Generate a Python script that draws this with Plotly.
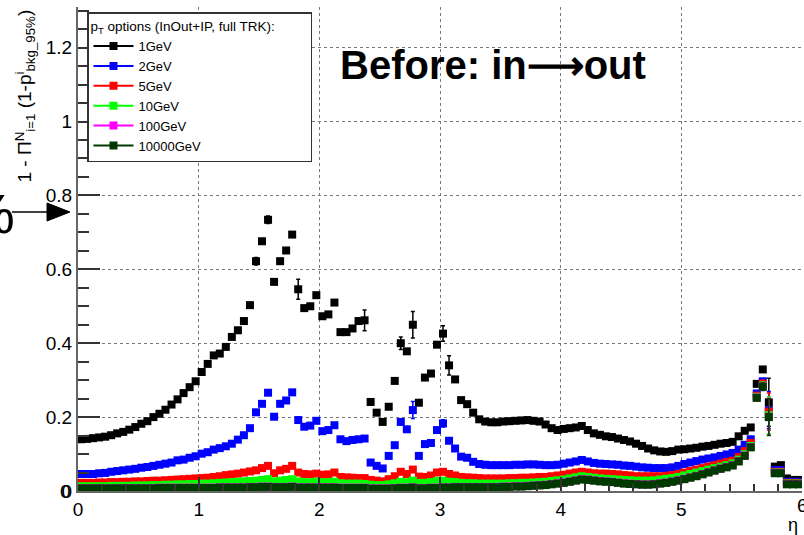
import numpy as np
import plotly.graph_objects as go

# ---------------- data ----------------
eta = np.round(np.arange(0.025, 6.0, 0.05), 3)  # histogram bin centres, width 0.05

pt_1GeV = [
    0.140, 0.141, 0.143, 0.145, 0.147, 0.151, 0.156, 0.160, 0.166, 0.173,
    0.182, 0.189, 0.200, 0.209, 0.220, 0.234, 0.248, 0.265, 0.281, 0.297,
    0.322, 0.344, 0.367, 0.372, 0.390, 0.417, 0.435, 0.460, 0.503, 0.622,
    0.676, 0.734, 0.566, 0.622, 0.651, 0.694, 0.546, 0.495, 0.500, 0.530,
    0.473, 0.478, 0.510, 0.430, 0.430, 0.440, 0.460, 0.462, 0.241, 0.212,
    0.187, 0.228, 0.298, 0.400, 0.378, 0.450, 0.239, 0.307, 0.318, 0.396,
    0.426, 0.340, 0.302, 0.246, 0.235, 0.212, 0.194, 0.188, 0.186, 0.186,
    0.188, 0.189, 0.190, 0.191, 0.192, 0.190, 0.188, 0.180, 0.170, 0.165,
    0.168, 0.170, 0.172, 0.176, 0.165, 0.156, 0.152, 0.148, 0.146, 0.142,
    0.138, 0.134, 0.128, 0.122, 0.115, 0.110, 0.107, 0.106, 0.108, 0.112,
    0.113, 0.115, 0.117, 0.120, 0.122, 0.125, 0.128, 0.130, 0.133, 0.148,
    0.163, 0.172, 0.290, 0.329, 0.240, 0.066, 0.070, 0.034, 0.030, 0.030,
]
pt_2GeV = [
    0.046, 0.046, 0.046, 0.048, 0.049, 0.052, 0.054, 0.056, 0.058, 0.060,
    0.063, 0.065, 0.068, 0.071, 0.074, 0.077, 0.083, 0.085, 0.090, 0.094,
    0.101, 0.105, 0.112, 0.116, 0.121, 0.128, 0.139, 0.151, 0.170, 0.213,
    0.236, 0.266, 0.201, 0.236, 0.245, 0.267, 0.192, 0.174, 0.177, 0.190,
    0.162, 0.165, 0.178, 0.140, 0.135, 0.138, 0.140, 0.142, 0.077, 0.068,
    0.061, 0.095, 0.124, 0.187, 0.167, 0.219, 0.095, 0.127, 0.130, 0.165,
    0.183, 0.136, 0.115, 0.093, 0.090, 0.079, 0.073, 0.071, 0.070, 0.070,
    0.070, 0.070, 0.071, 0.071, 0.072, 0.072, 0.071, 0.070, 0.070, 0.071,
    0.074, 0.077, 0.080, 0.084, 0.080, 0.076, 0.074, 0.073, 0.072, 0.071,
    0.069, 0.068, 0.066, 0.064, 0.063, 0.062, 0.062, 0.062, 0.064, 0.068,
    0.073, 0.077, 0.081, 0.085, 0.088, 0.091, 0.095, 0.099, 0.103, 0.112,
    0.125, 0.140, 0.264, 0.297, 0.219, 0.057, 0.057, 0.025, 0.025, 0.025,
]
pt_5GeV = [
    0.022, 0.022, 0.022, 0.023, 0.023, 0.024, 0.024, 0.025, 0.025, 0.026,
    0.026, 0.027, 0.028, 0.028, 0.029, 0.030, 0.031, 0.032, 0.033, 0.034,
    0.035, 0.036, 0.038, 0.040, 0.043, 0.045, 0.047, 0.050, 0.053, 0.056,
    0.062, 0.068, 0.048, 0.056, 0.060, 0.068, 0.050, 0.046, 0.045, 0.047,
    0.044, 0.045, 0.050, 0.038, 0.037, 0.036, 0.035, 0.035, 0.030, 0.028,
    0.026, 0.032, 0.040, 0.052, 0.046, 0.058, 0.039, 0.038, 0.042, 0.050,
    0.052, 0.046, 0.042, 0.038, 0.037, 0.036, 0.035, 0.034, 0.034, 0.034,
    0.034, 0.035, 0.035, 0.036, 0.036, 0.037, 0.038, 0.038, 0.040, 0.042,
    0.044, 0.047, 0.050, 0.052, 0.050, 0.048, 0.047, 0.047, 0.046, 0.045,
    0.043, 0.042, 0.040, 0.040, 0.040, 0.040, 0.040, 0.041, 0.043, 0.046,
    0.050, 0.054, 0.058, 0.062, 0.066, 0.070, 0.074, 0.078, 0.082, 0.092,
    0.108, 0.130, 0.258, 0.290, 0.215, 0.052, 0.052, 0.022, 0.022, 0.022,
]
pt_10GeV = [
    0.013, 0.013, 0.013, 0.013, 0.013, 0.014, 0.014, 0.014, 0.014, 0.015,
    0.015, 0.015, 0.016, 0.016, 0.017, 0.017, 0.018, 0.018, 0.019, 0.019,
    0.020, 0.020, 0.021, 0.022, 0.023, 0.024, 0.025, 0.026, 0.027, 0.028,
    0.030, 0.032, 0.026, 0.028, 0.030, 0.032, 0.026, 0.024, 0.024, 0.025,
    0.024, 0.024, 0.025, 0.021, 0.020, 0.020, 0.020, 0.019, 0.017, 0.016,
    0.016, 0.018, 0.021, 0.025, 0.024, 0.028, 0.022, 0.022, 0.024, 0.027,
    0.028, 0.025, 0.024, 0.022, 0.021, 0.021, 0.020, 0.020, 0.020, 0.020,
    0.020, 0.021, 0.021, 0.022, 0.022, 0.023, 0.024, 0.025, 0.027, 0.029,
    0.031, 0.034, 0.037, 0.040, 0.038, 0.036, 0.034, 0.033, 0.032, 0.031,
    0.030, 0.029, 0.028, 0.028, 0.028, 0.029, 0.031, 0.033, 0.035, 0.038,
    0.042, 0.046, 0.050, 0.054, 0.058, 0.062, 0.066, 0.070, 0.075, 0.085,
    0.100, 0.122, 0.255, 0.285, 0.205, 0.050, 0.050, 0.020, 0.020, 0.020,
]
pt_100GeV = [
    0.008, 0.008, 0.008, 0.008, 0.008, 0.008, 0.008, 0.008, 0.008, 0.008,
    0.008, 0.008, 0.008, 0.009, 0.009, 0.009, 0.009, 0.009, 0.009, 0.009,
    0.009, 0.009, 0.009, 0.010, 0.010, 0.010, 0.010, 0.010, 0.011, 0.011,
    0.012, 0.012, 0.011, 0.011, 0.011, 0.012, 0.010, 0.010, 0.010, 0.010,
    0.010, 0.010, 0.010, 0.009, 0.009, 0.009, 0.009, 0.009, 0.007, 0.007,
    0.007, 0.007, 0.008, 0.009, 0.009, 0.010, 0.008, 0.008, 0.009, 0.009,
    0.010, 0.010, 0.011, 0.011, 0.011, 0.011, 0.011, 0.011, 0.011, 0.011,
    0.012, 0.012, 0.013, 0.013, 0.014, 0.015, 0.016, 0.017, 0.019, 0.021,
    0.023, 0.026, 0.029, 0.032, 0.031, 0.029, 0.027, 0.026, 0.025, 0.023,
    0.021, 0.020, 0.019, 0.018, 0.018, 0.019, 0.021, 0.023, 0.026, 0.029,
    0.033, 0.037, 0.041, 0.046, 0.051, 0.056, 0.061, 0.065, 0.070, 0.081,
    0.096, 0.119, 0.253, 0.283, 0.201, 0.049, 0.049, 0.019, 0.019, 0.019,
]
pt_10000GeV = [
    0.007, 0.007, 0.007, 0.007, 0.007, 0.007, 0.007, 0.007, 0.007, 0.007,
    0.007, 0.007, 0.007, 0.008, 0.008, 0.008, 0.008, 0.008, 0.008, 0.008,
    0.008, 0.008, 0.008, 0.009, 0.009, 0.009, 0.009, 0.009, 0.010, 0.010,
    0.011, 0.011, 0.010, 0.010, 0.010, 0.011, 0.009, 0.009, 0.009, 0.009,
    0.009, 0.009, 0.009, 0.008, 0.008, 0.008, 0.008, 0.008, 0.006, 0.006,
    0.006, 0.006, 0.007, 0.008, 0.008, 0.009, 0.007, 0.007, 0.008, 0.008,
    0.009, 0.009, 0.010, 0.010, 0.010, 0.010, 0.010, 0.010, 0.010, 0.010,
    0.011, 0.011, 0.012, 0.012, 0.013, 0.014, 0.015, 0.016, 0.018, 0.020,
    0.022, 0.025, 0.028, 0.031, 0.030, 0.028, 0.026, 0.025, 0.024, 0.022,
    0.020, 0.019, 0.018, 0.017, 0.017, 0.018, 0.020, 0.022, 0.025, 0.028,
    0.032, 0.036, 0.040, 0.045, 0.050, 0.055, 0.060, 0.064, 0.069, 0.080,
    0.095, 0.118, 0.252, 0.282, 0.200, 0.048, 0.048, 0.018, 0.018, 0.018,
]

# statistical errors (only bins where they are visible)
black_err_bins = [29, 31, 36, 47, 53, 55, 60, 61, 114]
black_err_vals = [0.010, 0.010, 0.027, 0.028, 0.017, 0.036, 0.021, 0.026, 0.065]
blue_err_bins = [36, 55, 60, 114]
blue_err_vals = [0.008, 0.023, 0.010, 0.050]
other_err_bins = [113, 114]
other_err_vals = [0.010, 0.050]

series_names = ["1GeV", "2GeV", "5GeV", "10GeV", "100GeV", "10000GeV"]
series_vals = [pt_1GeV, pt_2GeV, pt_5GeV, pt_10GeV, pt_100GeV, pt_10000GeV]
series_colors = ["#000000", "#0000ff", "#ff0000", "#00ff00", "#ff00ff", "#003a00"]

x_ticks = [0, 1, 2, 3, 4, 5, 6]
y_ticks = [0, 0.2, 0.4, 0.6, 0.8, 1.0, 1.2]
y_ticktext = ["0", "0.2", "0.4", "0.6", "0.8", "1", "1.2"]


def full_err(bins, vals):
    e = np.zeros(len(eta))
    for b, v in zip(bins, vals):
        e[b] = v
    return e


err_sets = [
    full_err(black_err_bins, black_err_vals),
    full_err(blue_err_bins, blue_err_vals),
    full_err(other_err_bins, other_err_vals),
    full_err(other_err_bins, other_err_vals),
    full_err(other_err_bins, other_err_vals),
    full_err(other_err_bins, other_err_vals),
]

# ---------------- figure ----------------
W, H = 804, 535
ML, MR, MT, MB = 78, 2, 7, 44
PW, PH = W - ML - MR, H - MT - MB


def px(xp):
    return (xp - ML) / PW


def py(yp):
    return (H - MB - yp) / PH


fig = go.Figure()

for name, vals, col, err in zip(series_names, series_vals, series_colors, err_sets):
    fig.add_trace(go.Scatter(
        x=eta, y=vals, mode="markers", name=name, showlegend=False,
        marker=dict(symbol="square", size=8, color=col, line=dict(width=0)),
        error_y=dict(type="data", array=err, visible=True, color=col,
                     thickness=1.5, width=2),
    ))

# legend entries (line + marker, as in ROOT)
for name, col in zip(series_names, series_colors):
    fig.add_trace(go.Scatter(
        x=[None], y=[None], mode="lines+markers", name=name,
        line=dict(color=col, width=2),
        marker=dict(symbol="square", size=8, color=col),
    ))

fig.update_layout(
    width=W, height=H,
    margin=dict(l=ML, r=MR, t=MT, b=MB, pad=0, autoexpand=False),
    paper_bgcolor="white", plot_bgcolor="white",
    font=dict(family="Liberation Sans, Arial, sans-serif", color="black"),
    showlegend=True,
    legend=dict(
        x=px(87), y=py(12), xanchor="left", yanchor="top",
        bgcolor="white", bordercolor="#333333", borderwidth=1.5,
        font=dict(size=13),
        title=dict(text="p<sub>T</sub> options (InOut+IP, full TRK):" + "\u00a0" * 9,
                   font=dict(size=13.5), side="top"),
        tracegroupgap=0, itemwidth=40,
    ),
    xaxis=dict(
        range=[0, 6], tickvals=x_ticks, ticks="inside", ticklen=14,
        tickcolor="#333333", tickwidth=1.5,
        showline=True, linecolor="#666666", linewidth=2,
        showgrid=True, gridcolor="#777777", griddash="dot", gridwidth=1,
        tickfont=dict(size=19), zeroline=False,
        minor=dict(dtick=0.2, ticks="inside", ticklen=7, tickcolor="#333333",
                   tickwidth=1.5, showgrid=False),
    ),
    yaxis=dict(
        range=[0, 1.31], tickvals=y_ticks, ticktext=y_ticktext,
        ticks="inside", ticklen=22, tickcolor="#333333", tickwidth=1.5,
        showline=True, linecolor="#666666", linewidth=2,
        showgrid=True, gridcolor="#777777", griddash="dot", gridwidth=1,
        tickfont=dict(size=19), zeroline=False,
        minor=dict(dtick=0.05, ticks="inside", ticklen=11, tickcolor="#333333",
                   tickwidth=1.5, showgrid=False),
    ),
)

annotations = [
    dict(text="<b>Before: in\u27f6out</b>", xref="paper", yref="paper",
         x=px(338), y=py(65), xanchor="left", yanchor="middle",
         showarrow=False, font=dict(size=40, color="black",
                                    family="Liberation Sans, Arial, sans-serif"),
         ),
    dict(text="1 - \u03a0<sup>N</sup><sub>i=1</sub> (1-p<sup>i</sup><sub>bkg_95%</sub>)",
         xref="paper", yref="paper", x=px(25), y=py(8),
         xanchor="center", yanchor="top", textangle=-90, showarrow=False,
         font=dict(size=19)),
    dict(text="\u03b7", xref="paper", yref="paper", x=px(800), y=py(525),
         xanchor="right", yanchor="middle", showarrow=False, font=dict(size=18)),
    dict(text="%", xref="paper", yref="paper", x=px(17), y=py(213),
         xanchor="right", yanchor="middle", showarrow=False,
         font=dict(size=56, color="black")),
    # tick labels that plotly hides at the corners / figure edge
    dict(text=y_ticktext[0], xref="paper", yref="y", x=px(73), y=y_ticks[0],
         xanchor="right", yanchor="middle", showarrow=False, font=dict(size=19)),
    dict(text=str(x_ticks[-1]), xref="x", yref="paper", x=x_ticks[-1], y=py(505),
         xanchor="center", yanchor="middle", showarrow=False, font=dict(size=19)),
]
fig.update_layout(annotations=annotations)

# arrow pointing at the axis (part of the slide annotation)
fig.add_shape(type="line", xref="paper", yref="paper",
              x0=px(12), y0=py(212), x1=px(52), y1=py(212),
              line=dict(color="black", width=1.5))
fig.add_shape(type="path", xref="paper", yref="paper",
              path=f"M {px(47)} {py(203)} L {px(70)} {py(212)} L {px(47)} {py(221)} Z",
              fillcolor="black", line=dict(color="black", width=1))

fig.write_html("out.html")
